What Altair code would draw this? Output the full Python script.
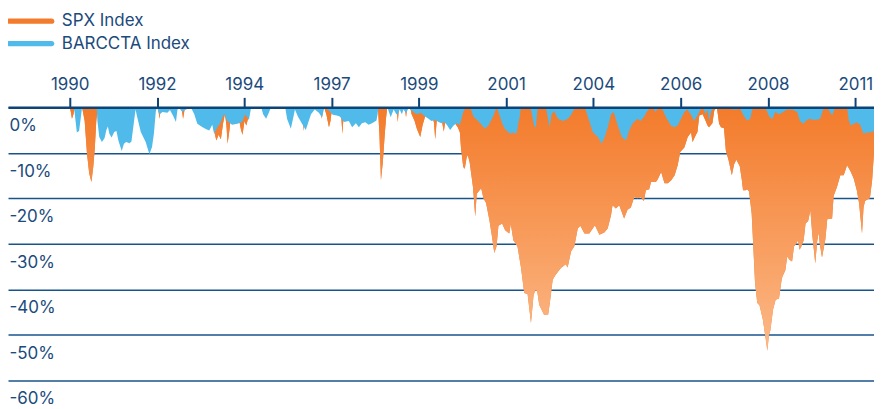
import altair as alt
import pandas as pd

# ---------------- data ----------------
series_names = ["SPX Index", "BARCCTA Index"]

spx_year = [1990.00, 1990.03, 1990.06, 1990.10, 1990.13, 1990.33, 1990.40, 1990.46, 1990.52, 1990.58,
            1990.63, 1990.67, 1990.71, 1990.75, 1992.36, 1992.40, 1992.44, 1992.99, 1993.03, 1993.07,
            1993.12, 1993.19, 1993.80, 1993.84, 1993.92, 1993.98, 1994.04, 1994.10, 1994.15, 1994.19,
            1994.22, 1994.27, 1994.31, 1994.40, 1994.52, 1994.58, 1994.62, 1994.67, 1994.72, 1994.78,
            1994.83, 1996.20, 1996.26, 1996.30, 1996.70, 1996.74, 1996.78, 1996.80, 1996.86, 1996.93,
            1996.97, 1997.00, 1997.03, 1997.25, 1997.29, 1997.32, 1997.35, 1998.24, 1998.28, 1998.32,
            1998.37, 1998.42, 1998.46, 1998.49, 1998.74, 1998.77, 1998.80, 1998.96, 1998.99, 1999.02,
            1999.10, 1999.14, 1999.22, 1999.28, 1999.37, 1999.43, 1999.50, 1999.55, 1999.70, 1999.74,
            1999.77, 1999.81, 1999.90, 1999.96, 2000.00, 2000.04, 2000.20, 2000.30, 2000.38, 2000.43,
            2000.46, 2000.52, 2000.56, 2000.61, 2000.64, 2000.69, 2000.78, 2000.84, 2000.88, 2001.00,
            2001.06, 2001.13, 2001.22, 2001.29, 2001.35, 2001.41, 2001.46, 2001.56, 2001.64, 2001.75,
            2001.79, 2001.86, 2001.97, 2002.06, 2002.15, 2002.24, 2002.33, 2002.40, 2002.46, 2002.50,
            2002.55, 2002.68, 2002.79, 2002.84, 2002.91, 2002.99, 2003.13, 2003.26, 2003.31, 2003.40,
            2003.49, 2003.58, 2003.65, 2003.76, 2003.89, 2004.04, 2004.16, 2004.29, 2004.38, 2004.47,
            2004.51, 2004.60, 2004.69, 2004.82, 2004.91, 2005.00, 2005.09, 2005.18, 2005.26, 2005.35,
            2005.40, 2005.49, 2005.54, 2005.67, 2005.72, 2005.81, 2005.90, 2005.99, 2006.08, 2006.17,
            2006.25, 2006.32, 2006.43, 2006.52, 2006.61, 2006.65, 2006.74, 2006.78, 2006.83, 2006.92,
            2007.00, 2007.05, 2007.09, 2007.14, 2007.18, 2007.23, 2007.30, 2007.36, 2007.41, 2007.49,
            2007.54, 2007.61, 2007.70, 2007.76, 2007.82, 2007.91, 2007.96, 2008.00, 2008.07, 2008.11,
            2008.16, 2008.23, 2008.27, 2008.32, 2008.38, 2008.44, 2008.53, 2008.59, 2008.65, 2008.69,
            2008.73, 2008.80, 2008.87, 2008.96, 2009.03, 2009.05, 2009.13, 2009.18, 2009.24, 2009.31,
            2009.36, 2009.42, 2009.47, 2009.51, 2009.56, 2009.62, 2009.67, 2009.74, 2009.80, 2009.85,
            2009.93, 2009.98, 2010.02, 2010.05, 2010.11, 2010.20, 2010.25, 2010.38, 2010.42, 2010.51,
            2010.60, 2010.69, 2010.78, 2010.87, 2010.96, 2011.04, 2011.10, 2011.18, 2011.22, 2011.26,
            2011.33, 2011.39, 2011.45, 2011.50]
spx_dd = [0.0, -1.0, -2.5, -1.5, 0.0, 0.0, -3.0, -10.0, -14.5, -16.4,
          -13.0, -9.0, -3.0, 0.0, 0.0, -2.5, 0.0, 0.0, -2.5, -0.5,
          -0.4, 0.0, 0.0, -4.5, -7.3, -6.0, -7.0, -3.5, -1.4, -4.0,
          -8.0, -5.0, -2.0, -1.0, -2.5, -5.0, -6.0, -3.0, -4.0, -2.0,
          0.0, 0.0, -5.2, 0.0, 0.0, -2.5, 0.0, 0.0, -1.5, -4.4,
          -3.0, -1.0, 0.0, -1.0, -5.8, -2.0, 0.0, 0.0, -6.0, -16.0,
          -12.0, -6.0, -2.0, 0.0, 0.0, -3.3, 0.0, 0.0, -2.2, 0.0,
          0.0, -1.5, -3.0, -4.7, -6.5, -4.0, -2.0, -1.0, -2.0, -3.5,
          -7.0, -3.0, -2.5, -3.5, -5.3, -3.0, -3.0, -3.5, -4.5, -5.5,
          -9.0, -13.1, -13.5, -11.0, -10.5, -12.0, -17.5, -24.0, -19.0, -17.8,
          -20.0, -21.0, -24.8, -28.5, -32.0, -30.5, -26.0, -25.5, -27.0, -27.7,
          -25.6, -29.2, -30.6, -35.0, -40.8, -41.0, -47.4, -41.2, -40.1, -40.5,
          -43.4, -45.6, -45.5, -42.6, -37.9, -36.8, -35.3, -34.5, -35.2, -31.7,
          -30.5, -26.6, -26.0, -27.7, -27.7, -25.9, -28.0, -27.5, -26.6, -23.7,
          -21.5, -22.2, -21.5, -24.4, -22.5, -22.0, -19.7, -20.0, -19.7, -20.6,
          -18.2, -18.0, -16.4, -16.4, -15.8, -14.2, -16.7, -16.7, -16.0, -14.9,
          -12.8, -9.8, -8.8, -6.5, -5.5, -7.6, -6.0, -5.4, -1.8, -1.5,
          -3.0, -4.0, -4.4, -3.9, -3.5, -0.7, 0.0, -3.6, -4.4, -4.6,
          -9.5, -11.5, -14.9, -12.5, -11.5, -12.9, -15.5, -18.2, -18.2, -18.0,
          -18.5, -23.3, -30.0, -38.6, -43.0, -43.5, -46.7, -50.0, -53.5, -50.0,
          -49.0, -44.5, -42.3, -42.0, -37.9, -37.2, -35.8, -32.8, -33.5, -33.9,
          -30.6, -30.0, -29.2, -31.3, -30.5, -29.2, -25.5, -25.0, -22.6, -28.0,
          -34.3, -29.5, -27.5, -30.0, -33.0, -29.0, -24.6, -24.4, -19.5, -17.5,
          -14.9, -14.9, -12.7, -14.0, -15.7, -18.2, -21.0, -27.7, -22.0, -20.6,
          -20.2, -20.0, -16.0, -9.9]

barc_year = [1990.00, 1990.10, 1990.13, 1990.19, 1990.25, 1990.30, 1990.33, 1990.72, 1990.74, 1990.79,
             1990.86, 1990.93, 1990.98, 1991.02, 1991.06, 1991.12, 1991.19, 1991.25, 1991.30, 1991.39,
             1991.45, 1991.51, 1991.60, 1991.65, 1991.72, 1991.76, 1991.80, 1991.90, 1992.03, 1992.13,
             1992.20, 1992.25, 1992.30, 1992.33, 1992.40, 1992.48, 1992.61, 1992.68, 1992.76, 1992.84,
             1992.88, 1992.94, 1993.01, 1993.12, 1993.25, 1993.33, 1993.41, 1993.54, 1993.65, 1993.73,
             1993.81, 1993.86, 1993.94, 1994.02, 1994.13, 1994.21, 1994.34, 1994.48, 1994.61, 1994.69,
             1994.79, 1994.85, 1995.05, 1995.12, 1995.17, 1995.25, 1995.33, 1995.38, 1995.50, 1995.70,
             1995.76, 1995.81, 1995.91, 1995.97, 1996.02, 1996.10, 1996.21, 1996.31, 1996.37, 1996.45,
             1996.55, 1996.66, 1996.74, 1996.80, 1996.90, 1997.03, 1997.14, 1997.22, 1997.33, 1997.46,
             1997.55, 1997.65, 1997.73, 1997.81, 1997.90, 1997.99, 1998.08, 1998.20, 1998.23, 1998.25,
             1998.49, 1998.58, 1998.66, 1998.73, 1998.77, 1998.82, 1998.88, 1998.92, 1998.99, 1999.06,
             1999.16, 1999.27, 1999.38, 1999.50, 1999.59, 1999.67, 1999.77, 1999.86, 1999.94, 2000.01,
             2000.08, 2000.17, 2000.26, 2000.34, 2000.43, 2000.52, 2000.58, 2000.71, 2000.79, 2000.92,
             2001.10, 2001.19, 2001.32, 2001.41, 2001.48, 2001.56, 2001.63, 2001.77, 2001.85, 2001.94,
             2002.03, 2002.06, 2002.30, 2002.33, 2002.42, 2002.46, 2002.51, 2002.69, 2002.74, 2002.83,
             2002.88, 2002.95, 2003.05, 2003.19, 2003.32, 2003.41, 2003.48, 2003.53, 2003.77, 2003.85,
             2003.98, 2004.12, 2004.22, 2004.30, 2004.38, 2004.47, 2004.54, 2004.65, 2004.76, 2004.87,
             2004.96, 2005.05, 2005.18, 2005.26, 2005.36, 2005.42, 2005.50, 2005.58, 2005.66, 2005.74,
             2005.82, 2005.93, 2006.07, 2006.16, 2006.25, 2006.34, 2006.43, 2006.51, 2006.60, 2006.69,
             2006.78, 2006.86, 2006.94, 2007.00, 2007.05, 2007.10, 2007.14, 2007.21, 2007.66, 2007.71,
             2007.85, 2007.90, 2008.03, 2008.11, 2008.19, 2008.26, 2008.48, 2008.51, 2008.59, 2008.70,
             2008.78, 2008.86, 2008.97, 2009.07, 2009.18, 2009.31, 2009.45, 2009.52, 2009.62, 2009.67,
             2009.77, 2009.87, 2009.98, 2010.06, 2010.14, 2010.25, 2010.38, 2010.46, 2010.78, 2010.83,
             2010.88, 2010.96, 2011.04, 2011.13, 2011.22, 2011.31, 2011.39, 2011.50]
barc_dd = [0.0, 0.0, -1.0, -5.5, -5.2, -2.0, 0.0, 0.0, -3.0, -6.5,
           -7.6, -6.8, -5.0, -4.2, -5.8, -6.6, -5.4, -5.2, -7.3, -9.6,
           -8.0, -7.6, -7.9, -7.5, -3.0, -0.5, -2.0, -5.4, -7.6, -10.3,
           -8.7, -5.8, -1.0, 0.0, -1.5, -1.0, -1.2, -0.6, -1.8, -3.2,
           -0.5, -0.3, -1.0, -0.3, -0.2, -1.5, -3.6, -4.3, -4.8, -5.1,
           -3.8, -5.8, -4.5, -3.5, -1.4, -3.0, -3.8, -3.6, -3.2, -1.5,
           -2.8, 0.0, -0.3, 0.0, -1.5, -2.5, -1.0, 0.0, -0.3, -0.3,
           0.0, -2.5, -4.7, -2.5, -0.5, -2.0, -3.6, -5.0, -3.5, -1.5,
           -0.5, -1.2, -2.2, -0.3, -0.5, -1.6, -1.8, -2.0, -3.2, -3.0,
           -4.4, -3.5, -4.4, -3.5, -3.3, -3.8, -3.5, -2.9, -1.5, 0.0,
           0.0, -2.2, -0.5, -1.5, -1.5, -0.5, -1.5, -0.5, -1.2, -0.2,
           -0.8, -1.5, -1.2, -2.0, -2.5, -3.0, -2.8, -3.2, -3.5, -3.2,
           -3.8, -5.0, -4.0, -3.5, -3.8, -1.0, 0.0, 0.0, -2.0, -3.0,
           -4.7, -4.0, -2.0, 0.0, -1.5, -3.5, -4.7, -5.8, -5.5, -5.8,
           -2.0, 0.0, 0.0, -0.5, -4.2, -4.4, 0.0, 0.0, -0.5, -4.4,
           -1.5, -0.8, -2.5, -3.0, -2.5, -1.5, -0.5, 0.0, 0.0, -2.0,
           -5.4, -6.5, -8.0, -6.5, -4.5, -1.5, -1.0, -4.0, -6.5, -7.3,
           -5.0, -3.5, -2.5, -3.0, -2.0, -1.0, -0.3, 0.0, -1.0, 0.0,
           0.0, -2.0, -4.0, -4.4, -4.0, -2.5, -1.0, -0.5, -1.5, -3.0,
           -1.8, -0.5, -0.3, -1.5, -0.5, -3.0, -1.0, 0.0, 0.0, -0.5,
           -0.5, 0.0, -2.0, -2.9, -2.5, 0.0, 0.0, -0.5, 0.0, -2.0,
           -2.6, -1.0, -1.5, -1.0, -0.5, -0.5, -1.0, -3.0, -3.6, -3.0,
           -2.5, -2.7, -2.7, -2.5, -0.5, 0.0, -1.8, 0.0, 0.0, -3.0,
           -4.0, -3.6, -3.3, -3.8, -5.8, -5.5, -5.5, -5.2]

tick_labels = [1990, 1992, 1994, 1997, 1999, 2001, 2004, 2006, 2008, 2011]
y_ticks = [-60, -50, -40, -30, -20, -10, 0]

# ---------------- style ----------------
ORANGE = "#F37B2B"
ORANGE_LIGHT = "#FCB988"
BLUE = "#50BBEA"
NAVY = "#1B4A7C"
GRID = "#17548C"
DOMAIN = "#0F4275"
FONT = "Inter"
FS = 17

df = pd.concat([
    pd.DataFrame({"year": spx_year, "dd": spx_dd, "series": series_names[0]}),
    pd.DataFrame({"year": barc_year, "dd": barc_dd, "series": series_names[1]}),
], ignore_index=True)

# axis ticks every 28 months starting Jan 1990
tick_values = [1990 + i * 28 / 12 for i in range(len(tick_labels))]

x_enc = alt.X(
    "year:Q",
    scale=alt.Scale(domain=[1988.35, 2011.5], nice=False, zero=False),
    axis=alt.Axis(
        orient="top", title=None, values=tick_values,
        labelExpr="'' + floor(datum.value + 0.001)",
        grid=False, domain=True, domainColor=DOMAIN, domainWidth=2.5,
        ticks=True, tickColor=DOMAIN, tickWidth=2, tickSize=10,
        labelFont=FONT, labelFontSize=FS, labelColor=NAVY,
        labelBaseline="alphabetic", labelPadding=7.5,
        labelFlush=False, labelOverlap=False, zindex=1,
    ),
)
y_enc = alt.Y(
    "dd:Q",
    scale=alt.Scale(domain=[-60, 0], nice=False),
    axis=alt.Axis(
        orient="left", title=None, values=y_ticks,
        labelExpr="datum.value + '%'",
        domain=False, ticks=False, tickSize=0,
        grid=True, gridColor=GRID, gridWidth=1.5, gridOpacity=1,
        labelAlign="left", labelBaseline="alphabetic",
        labelPadding=-1, labelOffset=23.3,
        labelFont=FONT, labelFontSize=FS, labelColor=NAVY,
        labelOverlap=False, labelFlush=False, labelBound=False,
    ),
)

LEGEND_PATH = "M-7.1,-0.9L7.1,-0.9A0.9,0.9 0 0 1 7.1,0.9L-7.1,0.9A0.9,0.9 0 0 1 -7.1,-0.9Z"
color_enc = alt.Color(
    "series:N",
    scale=alt.Scale(domain=series_names, range=[ORANGE, BLUE]),
    legend=alt.Legend(
        title=None, orient="none", legendX=0, legendY=-95, direction="vertical",
        symbolType=LEGEND_PATH, symbolSize=36, symbolOffset=14,
        symbolStrokeWidth=0, symbolOpacity=1,
        labelOffset=23, labelFont=FONT, labelFontSize=FS, labelColor=NAVY,
        rowPadding=4.5, padding=0,
    ),
)

base = alt.Chart(df)

spx_flat = base.transform_filter(alt.datum.series == series_names[0]).mark_area(
    interpolate="linear"
).encode(x=x_enc, y=y_enc, color=color_enc)

spx_grad = base.transform_filter(alt.datum.series == series_names[0]).mark_area(
    interpolate="linear",
    color=alt.LinearGradient(
        gradient="linear",
        stops=[alt.GradientStop(color=ORANGE, offset=0),
               alt.GradientStop(color=ORANGE_LIGHT, offset=1)],
        x1=0, x2=0, y1=0, y2=1,
    ),
).encode(x=x_enc, y=y_enc)

barc = base.transform_filter(alt.datum.series == series_names[1]).mark_area(
    interpolate="linear"
).encode(x=x_enc, y=y_enc, color=color_enc)

chart = alt.layer(spx_flat, spx_grad, barc).properties(
    width=869,
    height=274,
    autosize=alt.AutoSizeParams(type="none"),
    padding={"left": 0, "top": 99, "right": 0, "bottom": 26},
).configure_view(strokeWidth=0)

chart.save("out.html", embed_options={"renderer": "svg", "actions": False})
